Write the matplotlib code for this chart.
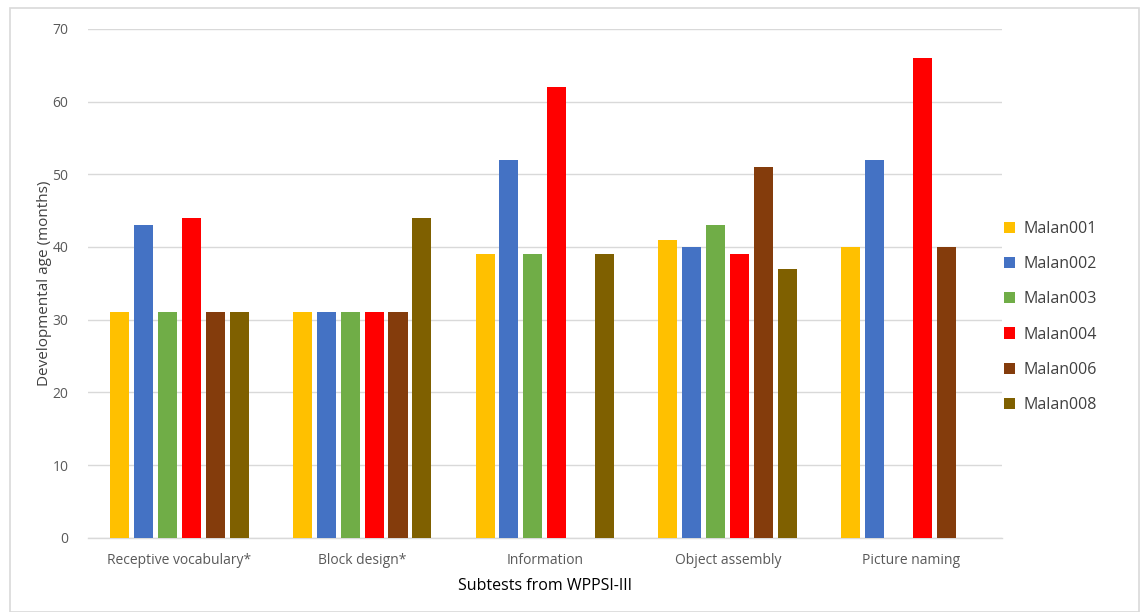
import matplotlib
matplotlib.use("Agg")
import matplotlib.pyplot as plt
import numpy as np
from matplotlib.patches import Rectangle

categories = ["Receptive vocabulary*", "Block design*", "Information", "Object assembly", "Picture naming"]
series_names = ["Malan001", "Malan002", "Malan003", "Malan004", "Malan006", "Malan008"]
malan001 = [31, 31, 39, 41, 40]
malan002 = [43, 31, 52, 40, 52]
malan003 = [31, 31, 39, 43, np.nan]
malan004 = [44, 31, 62, 39, 66]
malan006 = [31, 31, np.nan, 51, 40]
malan008 = [31, 44, 39, 37, np.nan]
series = [malan001, malan002, malan003, malan004, malan006, malan008]
colors = ["#FFC000", "#4472C4", "#70AD47", "#FF0000", "#843C0C", "#7F6000"]

plt.rcParams['font.family'] = ['Open Sans', 'DejaVu Sans']
fig = plt.figure(figsize=(11.4, 6.12), dpi=100)
fig.patches.append(Rectangle((0.009, 0.0), 0.99, 0.987, transform=fig.transFigure,
                             fill=False, edgecolor="#D9D9D9", linewidth=1.2))
ax = fig.add_axes([0.077, 0.121, 0.802, 0.832])

x = np.arange(len(categories))
step = 0.131
width = 0.104
for i, (vals, name, c) in enumerate(zip(series, series_names, colors)):
    offs = (i - 2.5) * step
    ax.bar(x + offs, vals, width=width, color=c, label=name, zorder=3)

ax.set_xlim(-0.5, len(categories) - 0.5)
ax.set_ylim(0, 70)
ax.set_yticks(range(0, 71, 10))
ax.yaxis.grid(True, color="#D9D9D9", linewidth=1.0, zorder=0)
ax.set_axisbelow(True)
for s in ["top", "right", "left"]:
    ax.spines[s].set_visible(False)
ax.spines["bottom"].set_color("#D9D9D9")
ax.spines["bottom"].set_linewidth(1.0)
ax.tick_params(axis="both", length=0, colors="#595959", labelsize=10)
ax.tick_params(axis="y", pad=14)
ax.tick_params(axis="x", pad=11)
ax.set_xticks(x)
ax.set_xticklabels(categories)
ax.set_ylabel("Developmental age (months)", fontsize=11, color="#404040", labelpad=0)
ax.set_xlabel("Subtests from WPPSI-III", fontsize=11.5, color="#000000", labelpad=7)

leg = ax.legend(loc="center left", bbox_to_anchor=(0.995, 0.434), frameon=False,
                fontsize=11.5, labelspacing=1.2, handlelength=0.7, handleheight=0.7,
                handletextpad=0.5, borderaxespad=0.0)
for t in leg.get_texts():
    t.set_color("#404040")

fig.savefig("out.png", dpi=100)
